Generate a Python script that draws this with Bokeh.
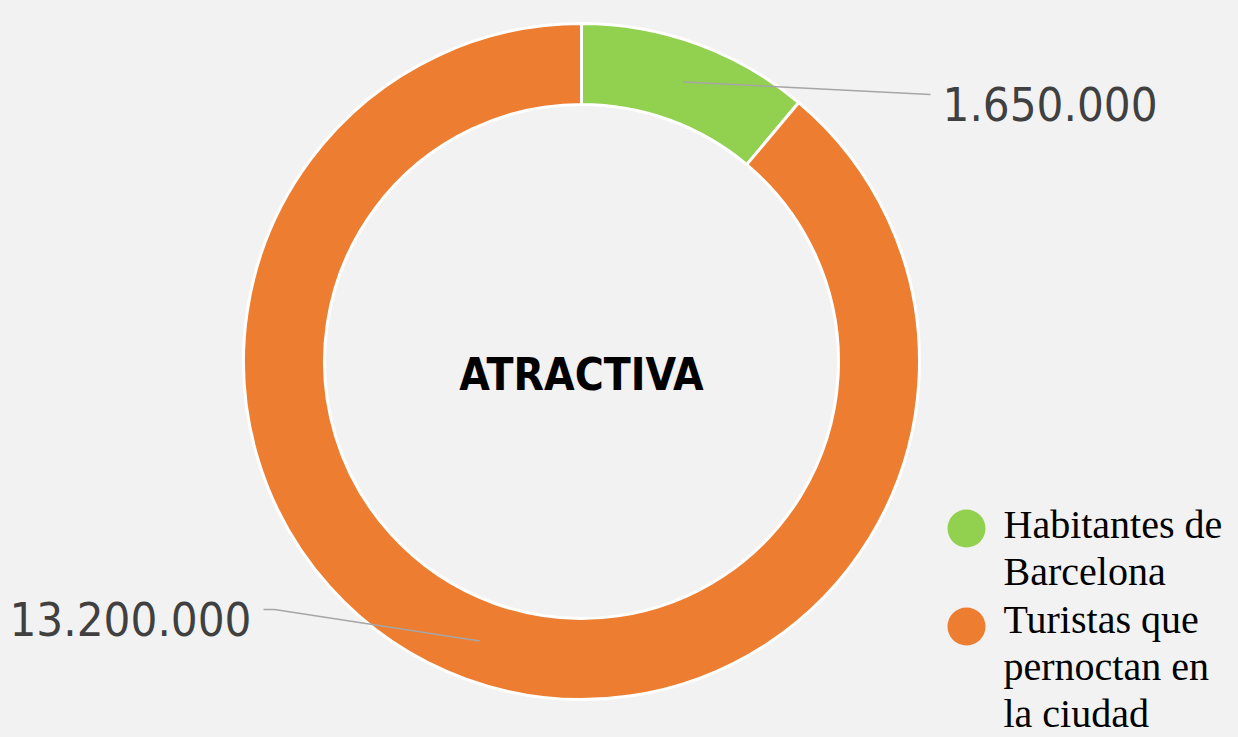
import math
import textwrap
from bokeh.plotting import figure
from bokeh.models import Range1d
from bokeh.core.properties import value
from bokeh.embed import file_html
from bokeh.resources import INLINE
from bokeh.core.templates import FILE
from jinja2 import Template

# ---- data ----
categories = ["Habitantes de Barcelona", "Turistas que pernoctan en la ciudad"]
values = [1650000, 13200000]
colors = ["#92d050", "#ed7d31"]
title_text = "ATRACTIVA"

W, H = 1238, 737
BL = 0.36  # svg baseline compensation (fraction of font size)
SANS = value("DejaVu Sans Condensed")

def Y(ry):
    return H - ry

def YB(ry, fs):
    return H - (ry - BL * fs)

p = figure(width=W, height=H, output_backend="svg", toolbar_location=None,
           x_range=Range1d(0, W), y_range=Range1d(0, H),
           min_border=0, outline_line_color=None,
           background_fill_color="#f2f2f2", border_fill_color="#f2f2f2")
p.axis.visible = False
p.grid.visible = False

cx, cy = 581, Y(361)
r_out, r_in = 338, 257

total = float(sum(values))
starts, ends, mids = [], [], []
a = 90.0
for v in values:
    span = 360.0 * v / total
    starts.append(math.radians(a))
    ends.append(math.radians(a - span))
    mids.append(math.radians(a - span / 2))
    a -= span

p.annular_wedge(x=[cx] * len(values), y=[cy] * len(values), inner_radius=r_in, outer_radius=r_out,
                start_angle=starts, end_angle=ends, direction="clock",
                fill_color=colors, line_color="white", line_width=3)

def fmt(v):
    return f"{v:,}".replace(",", ".")

r_mid = (r_in + r_out) / 2
num_fs = 47
# green slice label (right)
mx, my = cx + r_mid * math.cos(mids[0]), cy + r_mid * math.sin(mids[0])
p.line(x=[mx, 930], y=[my, Y(94)], line_color="#a6a6a6", line_width=1.5)
p.text(x=[942], y=[YB(120, num_fs)], text=[fmt(values[0])], text_font=SANS,
       text_font_size=f"{num_fs}px", text_color="#404040", text_align="left", text_baseline="alphabetic")
# orange slice label (left)
mx, my = cx + r_mid * math.cos(mids[1]), cy + r_mid * math.sin(mids[1])
p.line(x=[263, 274, mx], y=[Y(609), Y(609), my], line_color="#a6a6a6", line_width=1.5)
p.text(x=[251], y=[YB(635, num_fs)], text=[fmt(values[1])], text_font=SANS,
       text_font_size=f"{num_fs}px", text_color="#404040", text_align="right", text_baseline="alphabetic")

# center title
t_fs = 44
p.text(x=[cx], y=[YB(390, t_fs)], text=[title_text], text_font=SANS, text_font_style="bold",
       text_font_size=f"{t_fs}px", text_color="#000000", text_align="center", text_baseline="alphabetic")

# legend
leg_y = [538, 633]
circ_y = [528, 626]
l_fs = 40
pitch = 47
for i, cat in enumerate(categories):
    p.scatter(x=[966], y=[Y(circ_y[i])], size=38, marker="circle", fill_color=colors[i], line_color=None)
    lines = textwrap.wrap(cat, 13)
    for j, ln in enumerate(lines):
        p.text(x=[1003], y=[YB(leg_y[i] + pitch * j, l_fs)], text=[ln], text_font=value("Liberation Serif"),
               text_font_size=f"{l_fs}px", text_color="#000000", text_align="left", text_baseline="alphabetic")

tmpl = Template("{% extends base %}{% block inner_head %}{{ super() }}<style>body{background:#f2f2f2;}</style>{% endblock %}")
open("out.html", "w").write(file_html(p, INLINE, template=tmpl, template_variables={"base": FILE}))
